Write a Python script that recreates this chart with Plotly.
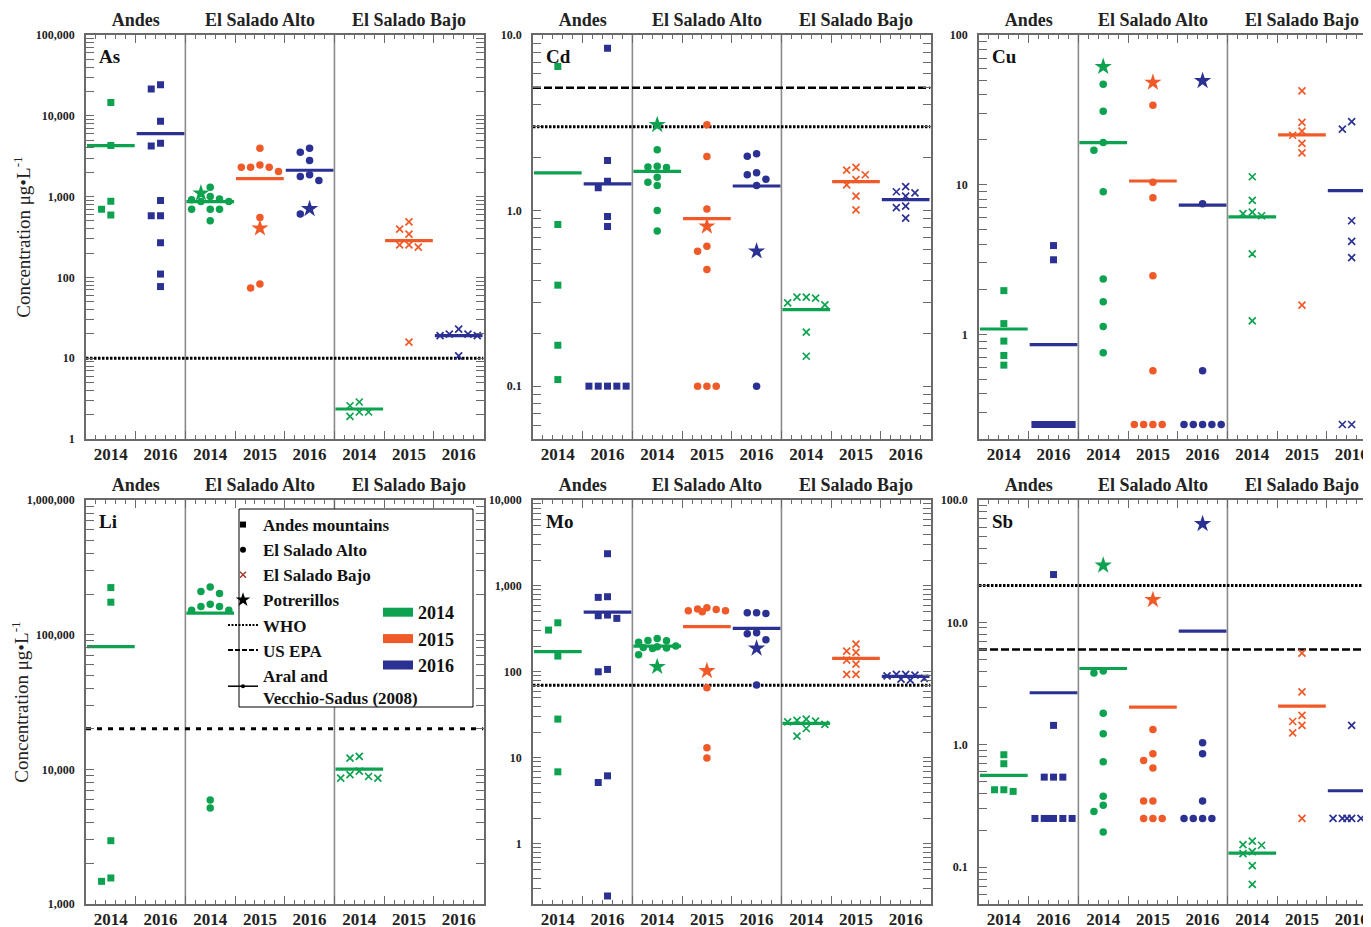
import math
import plotly.graph_objects as go

# ------------------------------------------------------------------ data
YEAR_LABELS = ["2014", "2016", "2014", "2015", "2016", "2014", "2015", "2016"]
CATEGORY_YEAR = [2014, 2016, 2014, 2015, 2016, 2014, 2015, 2016]
CATEGORY_SITE = ["Andes", "Andes", "El Salado Alto", "El Salado Alto", "El Salado Alto",
                 "El Salado Bajo", "El Salado Bajo", "El Salado Bajo"]
SITE_LABELS = ["Andes", "El Salado Alto", "El Salado Bajo"]
ELEMENTS = ["As", "Cd", "Cu", "Li", "Mo", "Sb"]

AS_VALUES = [
    [14560, 4280, 877, 699, 594],
    [24300, 21500, 8550, 4575, 4240, 894, 578, 578, 268, 110, 77],
    [1307, 1002, 937, 911, 869, 869, 699, 699, 699, 501],
    [3970, 2467, 2311, 2311, 2311, 2040, 551, 83, 74],
    [3970, 3540, 2790, 1858, 1771, 1580, 611],
    [2.87, 2.58, 2.16, 2.16, 1.91],
    [487, 395, 343, 253, 253, 237, 15.8],
    [22.9, 19.9, 19.9, 19.0, 19.0, 10.7],
]
AS_STARS = [None, None, 1102, 406, 705, None, None, None]
AS_MEANS = [4280, 6020, 869, 1673, 2120, 2.35, 286, 19.0]
AS_GUIDES = [(10, "WHO")]
AS_TICKVALS = [1, 10, 100, 1000, 10000, 100000]
AS_TICKTEXT = ["1", "10", "100", "1,000", "10,000", "100,000"]

CD_VALUES = [
    [6.62, 0.832, 0.376, 0.171, 0.109],
    [8.41, 1.93, 1.47, 1.35, 0.924, 0.811, 0.1, 0.1, 0.1, 0.1, 0.1],
    [2.22, 1.79, 1.77, 1.76, 1.55, 1.45, 1.39, 1.0, 0.766],
    [3.08, 2.03, 1.02, 0.627, 0.587, 0.462, 0.1, 0.1, 0.1],
    [2.11, 2.04, 1.64, 1.60, 1.51, 1.39, 0.1],
    [0.321, 0.321, 0.317, 0.298, 0.29, 0.203, 0.148],
    [1.76, 1.70, 1.60, 1.50, 1.40, 1.21, 1.01],
    [1.37, 1.28, 1.26, 1.21, 1.06, 1.04, 0.905],
]
CD_STARS = [None, None, 3.08, 0.814, 0.587, None, None, None]
CD_MEANS = [1.64, 1.42, 1.67, 0.90, 1.38, 0.273, 1.46, 1.155]
CD_GUIDES = [(3, "WHO"), (5, "US EPA")]
CD_TICKVALS = [0.1, 1, 10]
CD_TICKTEXT = ["0.1", "1.0", "10.0"]

CU_VALUES = [
    [1.96, 1.18, 0.902, 0.723, 0.623],
    [3.92, 3.15, 0.25, 0.25, 0.25, 0.25, 0.25, 0.25, 0.25, 0.25, 0.25],
    [46.8, 31.0, 19.1, 17.0, 8.98, 2.34, 1.65, 1.13, 0.754],
    [34.0, 10.4, 8.18, 2.46, 0.571, 0.25, 0.25, 0.25, 0.25],
    [7.46, 0.571, 0.25, 0.25, 0.25, 0.25, 0.25],
    [11.3, 7.85, 6.56, 6.40, 6.20, 3.45, 1.23],
    [42.4, 26.1, 22.8, 21.4, 18.9, 16.3, 1.57],
    [26.4, 23.5, 5.74, 4.18, 3.26, 0.25, 0.25],
]
CU_STARS = [None, None, 61.4, 48.2, 49.4, None, None, None]
CU_MEANS = [1.086, 0.853, 19.1, 10.58, 7.31, 6.1, 21.5, 9.12]
CU_GUIDES = []
CU_TICKVALS = [1, 10, 100]
CU_TICKTEXT = ["1", "10", "100"]

LI_VALUES = [
    [223700, 174200, 2951, 1560, 1473],
    [],
    [226400, 209000, 201800, 168000, 161700, 161700, 152000, 152000, 5911, 5152],
    [],
    [],
    [12470, 12110, 9700, 9120, 8850, 8610, 8610],
    [],
    [],
]
LI_STARS = [None, None, None, None, None, None, None, None]
LI_MEANS = [81600, None, 144300, None, None, 10040, None, None]
LI_GUIDES = [(20000, "Li")]
LI_TICKVALS = [1000, 10000, 100000, 1000000]
LI_TICKTEXT = ["1,000", "10,000", "100,000", "1,000,000"]

MO_VALUES = [
    [373, 307, 153, 28.3, 6.89],
    [2372, 750, 737, 459, 451, 420, 107, 100.4, 6.19, 5.18, 0.248],
    [245, 232, 230, 222, 200, 196, 193, 190, 188, 158],
    [558, 539, 534, 515, 515, 501, 65.5, 13.1, 10.0],
    [488, 488, 480, 286, 278, 237, 70.3],
    [28.3, 27.3, 26.8, 26.3, 24.5, 22.0, 17.9],
    [211, 175, 169, 137, 123, 93.5, 93.5],
    [93.5, 93.5, 91.9, 90.2, 84.0, 82.6, 80.4],
]
MO_STARS = [None, None, 115, 103, 188, None, None, None]
MO_MEANS = [172, 497, 200, 336, 321, 25.2, 144, 88.6]
MO_GUIDES = [(70, "WHO")]
MO_TICKVALS = [1, 10, 100, 1000, 10000]
MO_TICKTEXT = ["1", "10", "100", "1,000", "10,000"]

SB_VALUES = [
    [0.829, 0.700, 0.429, 0.429, 0.416],
    [24.6, 1.44, 0.544, 0.544, 0.544, 0.25, 0.25, 0.25, 0.25, 0.25, 0.25],
    [4.0, 3.85, 1.81, 1.23, 0.726, 0.379, 0.320, 0.285, 0.194],
    [1.33, 0.844, 0.745, 0.645, 0.347, 0.347, 0.25, 0.25, 0.25],
    [1.04, 0.844, 0.347, 0.25, 0.25, 0.25, 0.25],
    [0.163, 0.153, 0.151, 0.134, 0.129, 0.103, 0.0723],
    [5.61, 2.71, 1.74, 1.55, 1.44, 1.25, 0.25],
    [1.44, 0.25, 0.25, 0.25, 0.25, 0.25, 0.25],
]
SB_STARS = [None, None, 29.2, 15.3, 63.8, None, None, None]
SB_MEANS = [0.562, 2.66, 4.20, 2.03, 8.48, 0.130, 2.07, 0.421]
SB_GUIDES = [(20, "WHO"), (6, "US EPA")]
SB_TICKVALS = [0.1, 1, 10, 100]
SB_TICKTEXT = ["0.1", "1.0", "10.0", "100.0"]

# axis ranges (y, data units)
Y_RANGES = {"As": (1, 100000), "Cd": (0.05, 10), "Cu": (0.2, 100),
            "Li": (1000, 1000000), "Mo": (0.2, 10000), "Sb": (0.05, 100)}

PANELS = [
    ("As", AS_VALUES, AS_STARS, AS_MEANS, AS_GUIDES, AS_TICKVALS, AS_TICKTEXT),
    ("Cd", CD_VALUES, CD_STARS, CD_MEANS, CD_GUIDES, CD_TICKVALS, CD_TICKTEXT),
    ("Cu", CU_VALUES, CU_STARS, CU_MEANS, CU_GUIDES, CU_TICKVALS, CU_TICKTEXT),
    ("Li", LI_VALUES, LI_STARS, LI_MEANS, LI_GUIDES, LI_TICKVALS, LI_TICKTEXT),
    ("Mo", MO_VALUES, MO_STARS, MO_MEANS, MO_GUIDES, MO_TICKVALS, MO_TICKTEXT),
    ("Sb", SB_VALUES, SB_STARS, SB_MEANS, SB_GUIDES, SB_TICKVALS, SB_TICKTEXT),
]

# ------------------------------------------------------------------ style / geometry
PAGE_W, PAGE_H = 1371, 927
BODY_MARGIN = 8                      # browser default body margin
W, H = PAGE_W - BODY_MARGIN, PAGE_H - BODY_MARGIN
FONT = "Liberation Serif"
COL_X0 = [86, 533, 979]              # page pixels
PANEL_W = 397.5
ROW_Y0 = [35, 500]
PANEL_H = 404
NCAT = 8
COLORS = {2014: "#0DA24F", 2015: "#F05A28", 2016: "#2B3192"}
SYMBOLS = {"Andes": "square", "El Salado Alto": "circle", "El Salado Bajo": "x-thin"}
SIZES = {"Andes": 7, "El Salado Alto": 7.5, "El Salado Bajo": 7}
AXIS_COLOR = "#6a6a6a"
SEP_COLOR = "#8a8a8a"
GUIDE_STYLE = {
    "WHO": dict(color="black", width=3, dash="2.5px,1.5px"),
    "US EPA": dict(color="black", width=2.5, dash="8px,3px"),
    "Li": dict(color="black", width=3, dash="5px,6px"),
}
STEP_PX = 9.3
MIN_DIST = 8.0


def fx(px):
    return (px - BODY_MARGIN) / W


def fy(px):
    return 1 - (px - BODY_MARGIN) / H


def swarm(values, px_per_dec):
    """Beeswarm slot assignment (in slot units) so markers don't overlap."""
    slots = [0, -1, 1, -2, 2, -0.5, 0.5, -1.5, 1.5]
    order = sorted(range(len(values)), key=lambda i: -values[i])
    placed = []
    out = [0] * len(values)
    for i in order:
        y = math.log10(values[i]) * px_per_dec
        best, best_d = 0, -1.0
        for s in slots:
            x = s * STEP_PX
            d = min((math.hypot(x - a, y - b) for a, b in placed), default=1e9)
            if d >= MIN_DIST:
                best = s
                break
            if d > best_d + 1e-9:
                best_d, best = d, s
        out[i] = best
        placed.append((best * STEP_PX, y))
    return out


fig = go.Figure()
layout = dict(
    width=W, height=H, margin=dict(l=0, r=0, t=0, b=0, pad=0),
    paper_bgcolor="white", plot_bgcolor="white",
    font=dict(family=FONT, color="black"),
    showlegend=True, hovermode=False,
)
shapes, annotations = [], []
guide_traces, mean_traces, point_traces, dummy_traces = [], [], [], []

site_centers = []
for site in SITE_LABELS:
    idx = [i + 1 for i, s in enumerate(CATEGORY_SITE) if s == site]
    site_centers.append(sum(idx) / len(idx))

for p, (el, values, stars, means, guides, tvals, ttext) in enumerate(PANELS):
    row, col = p // 3, p % 3
    x0 = COL_X0[col]
    x1 = min(x0 + PANEL_W, PAGE_W)
    xmax = 0.5 + NCAT * (x1 - x0) / PANEL_W
    cat_px = PANEL_W / NCAT
    dom_x = [fx(x0), min(1.0, fx(x1))]
    dom_y = [fy(ROW_Y0[row] + PANEL_H), fy(ROW_Y0[row])]
    ymin, ymax = Y_RANGES[el]
    px_per_dec = PANEL_H / (math.log10(ymax) - math.log10(ymin))

    xid = "x" if p == 0 else f"x{p + 1}"
    yid = "y" if p == 0 else f"y{p + 1}"
    xkey = "xaxis" if p == 0 else f"xaxis{p + 1}"
    ykey = "yaxis" if p == 0 else f"yaxis{p + 1}"
    lab_id, grp_id = f"x{p + 7}", f"x{p + 13}"

    boundaries = [0.5 + k for k in range(NCAT + 1) if 0.5 + k <= xmax + 1e-9]
    minor_x = [0.5 + 0.2 * k for k in range(NCAT * 5 + 1) if k % 5 != 0 and 0.5 + 0.2 * k <= xmax]

    layout[xkey] = dict(
        domain=dom_x, anchor=yid, range=[0.5, xmax], showgrid=False, zeroline=False,
        showline=True, linecolor=AXIS_COLOR, linewidth=1.5, mirror="allticks",
        tickmode="array", tickvals=boundaries, ticks="inside", ticklen=8, tickwidth=1.2,
        tickcolor=AXIS_COLOR, showticklabels=False, automargin=False, fixedrange=True,
        minor=dict(tickmode="array", tickvals=minor_x, ticks="inside", ticklen=4,
                   tickwidth=1, tickcolor=AXIS_COLOR, showgrid=False),
    )
    layout[f"xaxis{p + 7}"] = dict(
        overlaying=xid, anchor=yid, side="bottom", range=[0.5, xmax], showgrid=False,
        zeroline=False, showline=False, tickmode="array",
        tickvals=list(range(1, NCAT + 1)), ticktext=YEAR_LABELS, ticks="",
        ticklabelstandoff=3, automargin=False, fixedrange=True,
        tickfont=dict(family=FONT, size=17, color="#222", weight="bold"),
    )
    layout[f"xaxis{p + 13}"] = dict(
        overlaying=xid, anchor=yid, side="top", range=[0.5, xmax], showgrid=False,
        zeroline=False, showline=False, tickmode="array",
        tickvals=site_centers, ticktext=SITE_LABELS, ticks="",
        ticklabelstandoff=4, automargin=False, fixedrange=True,
        tickfont=dict(family=FONT, size=18, color="#222", weight="bold"),
    )

    lo, hi = math.floor(math.log10(ymin)), math.ceil(math.log10(ymax))
    minor_y = [k * 10 ** d for d in range(lo, hi + 1) for k in range(2, 10)
               if ymin <= k * 10 ** d <= ymax]
    ydict = dict(
        domain=dom_y, anchor=xid, type="log",
        range=[math.log10(ymin), math.log10(ymax)], showgrid=False, zeroline=False,
        showline=True, linecolor=AXIS_COLOR, linewidth=1.5, mirror="allticks",
        tickmode="array", tickvals=tvals, ticktext=ttext, ticks="inside", ticklen=8,
        tickwidth=1.2, tickcolor=AXIS_COLOR, ticklabelstandoff=7, automargin=False,
        fixedrange=True,
        tickfont=dict(family=FONT, size=12, color="#222", weight="bold"),
        minor=dict(tickmode="array", tickvals=minor_y, ticks="inside", ticklen=4,
                   tickwidth=1, tickcolor=AXIS_COLOR, showgrid=False),
    )
    if col == 0:
        ydict["title"] = dict(text="Concentration \u03bcg\u2022L<sup>-1</sup>",
                              font=dict(family=FONT, size=19, color="#222"), standoff=0)
    layout[ykey] = ydict

    # invisible anchors so overlay axes are drawn
    for ax in (lab_id, grp_id):
        dummy_traces.append(go.Scatter(x=[1], y=[ymin * 1.5], xaxis=ax, yaxis=yid,
                                       mode="markers", marker=dict(opacity=0),
                                       showlegend=False, hoverinfo="skip"))

    # group separators
    for xs in (2.5, 5.5):
        shapes.append(dict(type="line", xref=xid, yref=f"{yid} domain", x0=xs, x1=xs,
                           y0=0, y1=1, line=dict(color=SEP_COLOR, width=1.6), layer="below"))

    # panel label
    annotations.append(dict(text=f"<b>{el}</b>", xref=f"{xid} domain", yref=f"{yid} domain",
                            x=0.028, y=0.948, xanchor="left", yanchor="middle", showarrow=False,
                            font=dict(family=FONT, size=19, color="#111")))

    # guideline traces
    for val, kind in guides:
        guide_traces.append(go.Scatter(x=[0.5, NCAT + 0.5], y=[val, val], xaxis=xid, yaxis=yid,
                                       mode="lines", line=GUIDE_STYLE[kind],
                                       showlegend=False, hoverinfo="skip"))

    for g in range(NCAT):
        cat = g + 1
        year = CATEGORY_YEAR[g]
        site = CATEGORY_SITE[g]
        color = COLORS[year]
        if means[g] is not None:
            mean_traces.append(go.Scatter(x=[cat - 0.48, cat + 0.48], y=[means[g], means[g]],
                                          xaxis=xid, yaxis=yid, mode="lines",
                                          line=dict(color=color, width=3.2),
                                          showlegend=False, hoverinfo="skip"))
        pts = list(values[g])
        has_star = stars[g] is not None
        allv = pts + ([stars[g]] if has_star else [])
        if not allv:
            continue
        offs = swarm(allv, px_per_dec)
        unit = STEP_PX / cat_px
        xs = [cat + o * unit for o in offs]
        n = len(pts)
        if n:
            mk = dict(symbol=SYMBOLS[site], size=SIZES[site], color=color)
            if site == "El Salado Bajo":
                mk["line"] = dict(color=color, width=1.7)
            point_traces.append(go.Scatter(x=xs[:n], y=pts, xaxis=xid, yaxis=yid, mode="markers",
                                           marker=mk, showlegend=False, hoverinfo="skip"))
        if has_star:
            point_traces.append(go.Scatter(x=[xs[n]], y=[stars[g]], xaxis=xid, yaxis=yid,
                                           mode="markers",
                                           marker=dict(symbol="star", size=13, color=color),
                                           showlegend=False, hoverinfo="skip"))

# ------------------------------------------------------------------ legend
LEGEND_SITES = ["Andes mountains", "El Salado Alto", "El Salado Bajo", "Potrerillos"]
LEGEND_GUIDES = ["WHO", "US EPA", "Aral and<br>Vecchio-Sadus (2008)"]
LEGEND_YEARS = [2014, 2015, 2016]

legend_traces = []
site_marks = [dict(symbol="square", size=6, color="black"),
              dict(symbol="circle", size=6, color="black"),
              dict(symbol="x-thin", size=6, color="#a33a2a", line=dict(color="#a33a2a", width=1.5)),
              dict(symbol="star", size=11, color="black")]
for name, mk in zip(LEGEND_SITES, site_marks):
    legend_traces.append(go.Scatter(x=[None], y=[None], mode="markers", marker=mk, name=name,
                                    legend="legend", showlegend=True))
legend_traces.append(go.Scatter(x=[None], y=[None], mode="lines", name=LEGEND_GUIDES[0],
                                line=dict(color="black", width=2, dash="2px,1.5px"),
                                legend="legend"))
legend_traces.append(go.Scatter(x=[None], y=[None], mode="lines", name=LEGEND_GUIDES[1],
                                line=dict(color="black", width=2, dash="5px,2px"),
                                legend="legend"))
legend_traces.append(go.Scatter(x=[None], y=[None], mode="lines+markers", name=LEGEND_GUIDES[2],
                                line=dict(color="black", width=1.5),
                                marker=dict(size=4, color="black"), legend="legend"))
for yr in LEGEND_YEARS:
    legend_traces.append(go.Scatter(x=[None], y=[None], mode="lines", name=str(yr),
                                    line=dict(color=COLORS[yr], width=9), legend="legend2"))

for t in guide_traces + mean_traces + point_traces + dummy_traces + legend_traces:
    fig.add_trace(t)

# legend box
shapes.append(dict(type="rect", xref="paper", yref="paper",
                   x0=fx(239), x1=fx(473), y0=fy(707), y1=fy(509),
                   line=dict(color="black", width=1), fillcolor="white", layer="above"))

layout["legend"] = dict(x=fx(223), y=fy(507), xanchor="left", yanchor="top",
                        bgcolor="rgba(0,0,0,0)", borderwidth=0, tracegroupgap=0,
                        font=dict(family=FONT, size=17, color="#111", weight="bold"),
                        itemclick=False, itemdoubleclick=False)
layout["legend2"] = dict(x=fx(378), y=fy(594), xanchor="left", yanchor="top",
                         bgcolor="rgba(0,0,0,0)", borderwidth=0, tracegroupgap=0,
                         font=dict(family=FONT, size=18, color="#111", weight="bold"),
                         itemclick=False, itemdoubleclick=False)
layout["shapes"] = shapes
layout["annotations"] = annotations
fig.update_layout(**layout)
fig.write_html("out.html", config={"displayModeBar": False})
